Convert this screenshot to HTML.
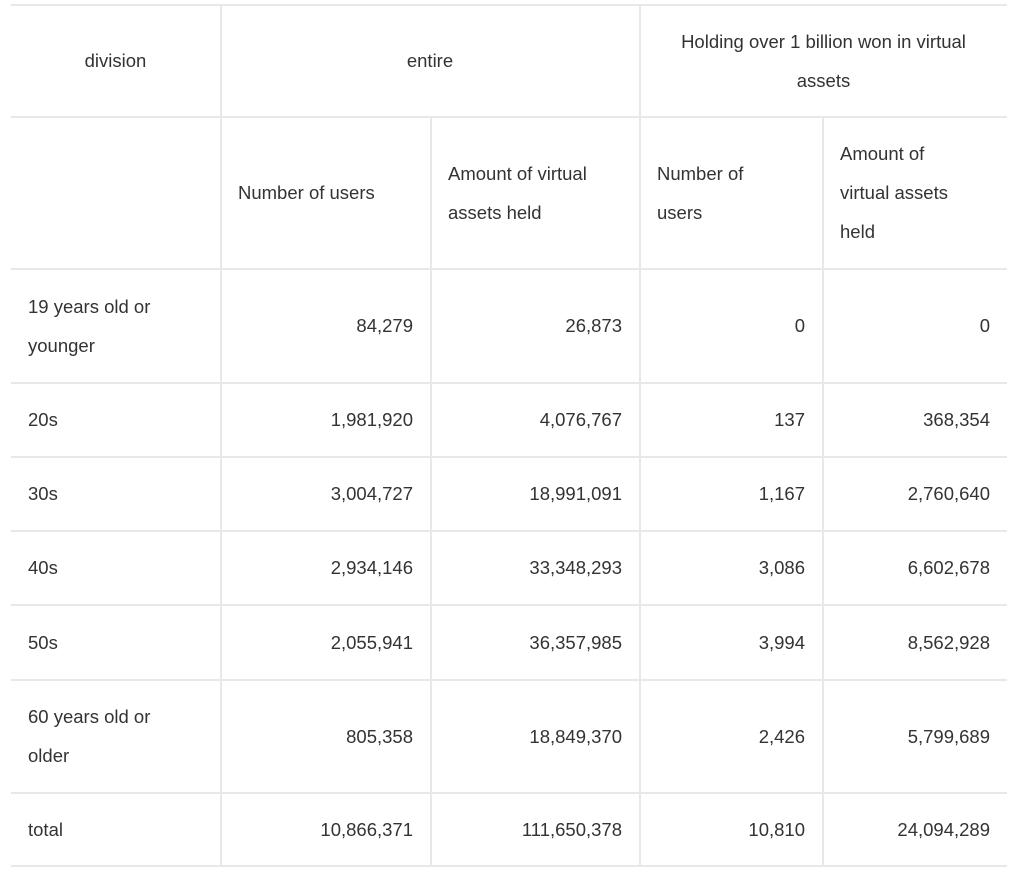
<!DOCTYPE html>
<html><head><meta charset="utf-8"><style>
body{margin:0;background:#fff;width:1024px;height:869px;position:relative;overflow:hidden;font-family:"Liberation Sans",sans-serif;color:#333;font-size:18.5px;}
.h{position:absolute;left:11px;width:996px;height:2px;background:#e8e8e8}
.v{position:absolute;width:2px;background:#e8e8e8}
.t{position:absolute;line-height:39px;display:flex;align-items:center;box-sizing:border-box;padding:0 17px}
.c{justify-content:center;text-align:center}
.r{justify-content:flex-end;text-align:right}
</style></head><body>
<div class="h" style="top:4px"></div>
<div class="h" style="top:116px"></div>
<div class="h" style="top:268px"></div>
<div class="h" style="top:382px"></div>
<div class="h" style="top:456px"></div>
<div class="h" style="top:530px"></div>
<div class="h" style="top:604px"></div>
<div class="h" style="top:679px"></div>
<div class="h" style="top:792px"></div>
<div class="h" style="top:865px"></div>
<div class="v" style="left:220px;top:5px;height:861px"></div>
<div class="v" style="left:639px;top:5px;height:861px"></div>
<div class="v" style="left:430px;top:117px;height:749px"></div>
<div class="v" style="left:822px;top:117px;height:749px"></div>

<div class="t c" style="left:11px;top:5px;width:209px;height:111px">division</div>
<div class="t c" style="left:221px;top:5px;width:418px;height:111px">entire</div>
<div class="t c" style="left:640px;top:5px;width:367px;height:111px">Holding over 1 billion won in virtual assets</div>

<div class="t" style="left:221px;top:117px;width:209px;height:151px">Number of users</div>
<div class="t" style="left:431px;top:117px;width:208px;height:151px">Amount of virtual assets held</div>
<div class="t" style="left:640px;top:117px;width:182px;height:151px">Number of<br>users</div>
<div class="t" style="left:823px;top:117px;width:184px;height:151px;padding-right:40px">Amount of virtual assets held</div>

<div id="rows"></div>
<script>
var rows=[[269,382,"19 years old or younger","84,279","26,873","0","0"],
[383,456,"20s","1,981,920","4,076,767","137","368,354"],
[457,530,"30s","3,004,727","18,991,091","1,167","2,760,640"],
[531,604,"40s","2,934,146","33,348,293","3,086","6,602,678"],
[605,679,"50s","2,055,941","36,357,985","3,994","8,562,928"],
[680,792,"60 years old or older","805,358","18,849,370","2,426","5,799,689"],
[793,865,"total","10,866,371","111,650,378","10,810","24,094,289"]];
var cols=[[11,209],[221,209],[431,208],[640,182],[823,184]];
var h="";
rows.forEach(function(r){for(var i=0;i<5;i++){h+='<div class="t'+(i?' r':'')+'" style="left:'+cols[i][0]+'px;top:'+r[0]+'px;width:'+cols[i][1]+'px;height:'+(r[1]-r[0])+'px'+(i==0?';padding-right:40px':'')+'">'+r[i+2]+'</div>';}});
document.getElementById("rows").innerHTML=h;
</script>
</body></html>
